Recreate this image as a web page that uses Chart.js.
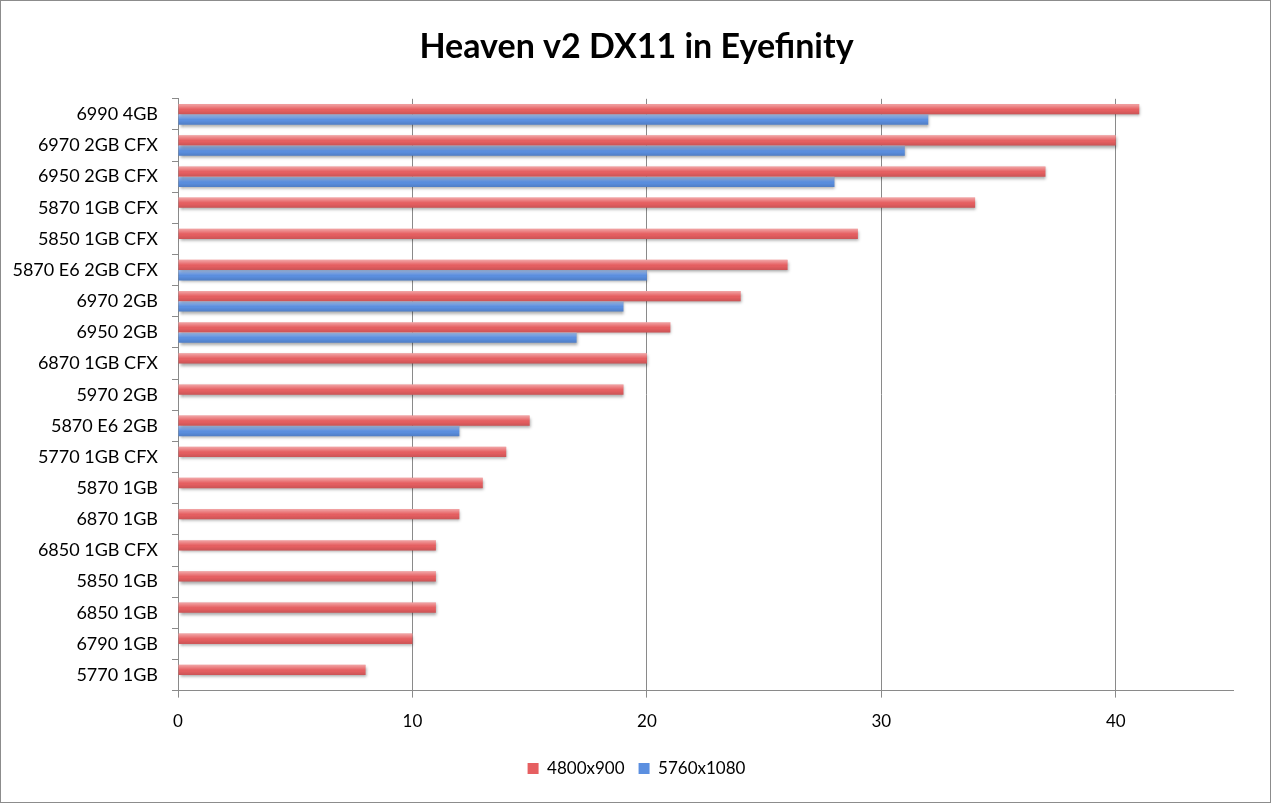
<!DOCTYPE html>
<html>
<head>
<meta charset="utf-8">
<script src="https://cdn.jsdelivr.net/npm/chart.js@4"></script>
<style>
  html, body { margin: 0; padding: 0; background: #fff; }
  #wrap { width: 1271px; height: 803px; box-sizing: border-box; border: 1px solid #8c8c8c; position: relative; }
  canvas { display: block; }
</style>
</head>
<body>
<div id="wrap"><canvas id="myChart" width="1269" height="801"></canvas></div>
<script>
// categories, top to bottom
const cards = [
  "6990 4GB", "6970 2GB CFX", "6950 2GB CFX", "5870 1GB CFX", "5850 1GB CFX",
  "5870 E6 2GB CFX", "6970 2GB", "6950 2GB", "6870 1GB CFX", "5970 2GB",
  "5870 E6 2GB", "5770 1GB CFX", "5870 1GB", "6870 1GB", "6850 1GB CFX",
  "5850 1GB", "6850 1GB", "6790 1GB", "5770 1GB"
];
// fps at 4800x900
const fps4800 = [41, 40, 37, 34, 29, 26, 24, 21, 20, 19, 15, 14, 13, 12, 11, 11, 11, 10, 8];
// fps at 5760x1080 (null = not tested)
const fps5760 = [32, 31, 28, null, null, 20, 19, 17, null, null, 12, null, null, null, null, null, null, null, null];
const xTicks = [0, 10, 20, 30, 40];

// drop shadow under bars, then a glossy overlay on each bar
const barLook = {
  id: "barLook",
  beforeDraw(chart) {
    // centre title and legend on the canvas, not on the padded box
    const mid = chart.width / 2 + 1;
    [chart.titleBlock, chart.legend].forEach((b) => {
      if (!b) return;
      const d = mid - (b.left + b.right) / 2;
      b.left += d;
      b.right += d;
    });
  },
  beforeDatasetsDraw(chart) {
    const c = chart.ctx;
    c.save();
    c.shadowColor = "rgba(0,0,0,0.35)";
    c.shadowBlur = 3;
    c.shadowOffsetX = 1;
    c.shadowOffsetY = 2;
  },
  afterDatasetsDraw(chart) {
    const c = chart.ctx;
    c.restore();
    chart.data.datasets.forEach((ds, i) => {
      chart.getDatasetMeta(i).data.forEach((bar) => {
        if (bar.skip || bar.x == null || isNaN(bar.x)) return;
        const top = bar.y - bar.height / 2;
        const g = c.createLinearGradient(0, top, 0, top + bar.height);
        g.addColorStop(0, "rgba(255,255,255,0.45)");
        g.addColorStop(0.45, "rgba(255,255,255,0.05)");
        g.addColorStop(0.6, "rgba(0,0,0,0)");
        g.addColorStop(1, "rgba(0,0,0,0.12)");
        c.fillStyle = g;
        c.fillRect(bar.base, top, bar.x - bar.base, bar.height);
      });
    });
  },
};

new Chart(document.getElementById("myChart"), {
  type: "bar",
  data: {
    labels: cards,
    datasets: [
      {
        label: "4800x900",
        data: fps4800,
        backgroundColor: "#e65f61",
        categoryPercentage: 0.66,
        barPercentage: 1.0,
      },
      {
        label: "5760x1080",
        data: fps5760,
        backgroundColor: "#5b8fe0",
        categoryPercentage: 0.66,
        barPercentage: 1.0,
      },
    ],
  },
  options: {
    indexAxis: "y",
    responsive: false,
    animation: false,
    layout: { padding: { left: 8, right: 37, top: 0, bottom: 15 } },
    scales: {
      x: {
        min: 0,
        max: 45,
        afterBuildTicks(scale) {
          scale.ticks = xTicks.map((v) => ({ value: v }));
        },
        grid: { color: "#8a8a8a", lineWidth: 1, tickLength: 7 },
        border: { color: "#8a8a8a" },
        ticks: { color: "#000", font: { family: "Lato", size: 17 }, padding: 14 },
      },
      y: {
        afterFit(scale) { scale.width = 169; },
        grid: { display: true, drawOnChartArea: false, offset: true, color: "#8a8a8a", tickLength: 6 },
        border: { color: "#8a8a8a" },
        ticks: { color: "#000", font: { family: "Lato", size: 18 }, padding: 14 },
      },
    },
    plugins: {
      title: {
        display: true,
        text: "Heaven v2 DX11 in Eyefinity",
        color: "#000",
        font: { family: "Lato", size: 34, weight: "bold" },
        padding: { top: 26, bottom: 31 },
      },
      legend: {
        position: "bottom",
        labels: {
          color: "#000",
          font: { family: "Lato", size: 17 },
          boxWidth: 11,
          boxHeight: 11,
          padding: 14,
        },
      },
      tooltip: { enabled: false },
    },
  },
  plugins: [barLook],
});
</script>
</body>
</html>
